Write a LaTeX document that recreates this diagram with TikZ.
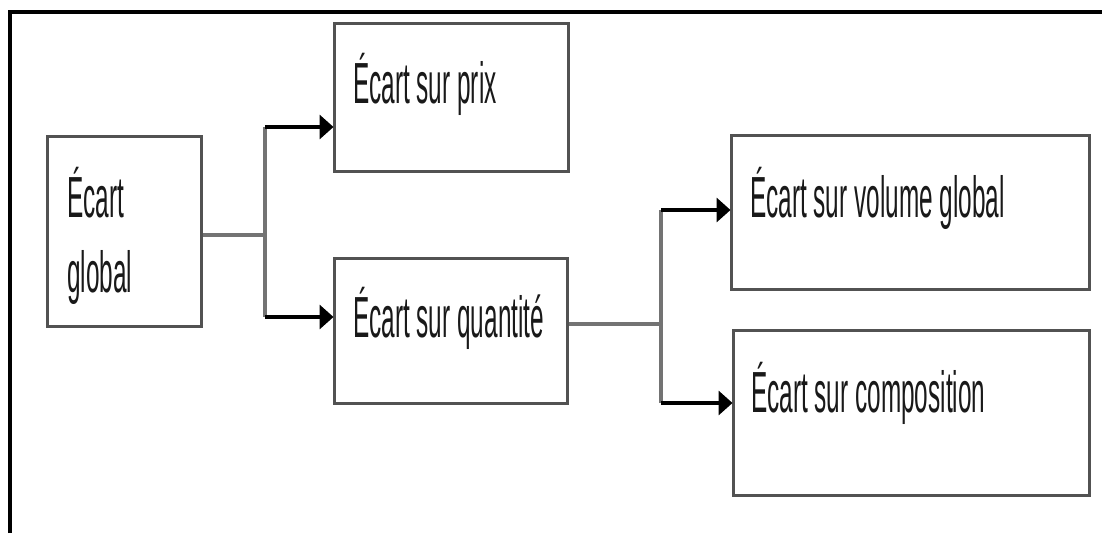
\documentclass[tikz,border=0pt]{standalone}
\usepackage{fontspec}
\newfontfamily\labfont[FakeStretch=0.42]{Liberation Sans}
\usetikzlibrary{arrows.meta}
\begin{document}
\begin{tikzpicture}[x=1pt,y=-1pt,
  boxst/.style={draw=black!68, line width=3pt, rectangle, inner sep=0pt},
  txt/.style={anchor=base west, inner sep=0pt, text=black!90, font=\labfont\fontsize{58}{75}\selectfont, align=left},
  link/.style={draw=black!55, line width=3.5pt},
  arr/.style={draw=black, line width=4pt, -{Triangle[length=14pt,width=24pt]}, shorten >=-1pt}
]
\useasboundingbox (0,0) rectangle (1102,533);
\draw[line width=3.4pt, black] (10,533) -- (10,12) -- (1102,12);

% boxes
\node[boxst, minimum width=154pt, minimum height=190pt] (gl) at (124,231) {};
\node[boxst, minimum width=234pt, minimum height=148pt] (prix) at (451,97) {};
\node[boxst, minimum width=233pt, minimum height=145pt] (quant) at (450.5,330.5) {};
\node[boxst, minimum width=358pt, minimum height=154pt] (vol) at (910,212) {};
\node[boxst, minimum width=356pt, minimum height=165pt] (comp) at (911,412.5) {};

% texts
\node[txt] (tgl) at (67,292) {Écart\\global};
\node[txt] (tprix) at (353,103) {Écart sur prix};
\node[txt] (tquant) at (353,337) {Écart sur quantité};
\node[txt] (tvol) at (750,217) {Écart sur volume global};
\node[txt] (tcomp) at (751,412) {Écart sur composition};

% junctions
\coordinate (j1) at (265,235);
\coordinate (a1) at (265,127);
\coordinate (b1) at (265,317);
\coordinate (j2) at (661,324);
\coordinate (a2) at (661,210);
\coordinate (b2) at (661,403);

\draw[link] (gl.east |- j1) -- (j1);
\draw[link] (a1) -- (b1);
\draw[arr] (a1) -- (prix.west |- a1);
\draw[arr] (b1) -- (quant.west |- b1);

\draw[link] (quant.east |- j2) -- (j2);
\draw[link] (a2) -- (b2);
\draw[arr] (a2) -- (vol.west |- a2);
\draw[arr] (b2) -- (comp.west |- b2);
\end{tikzpicture}
\end{document}
